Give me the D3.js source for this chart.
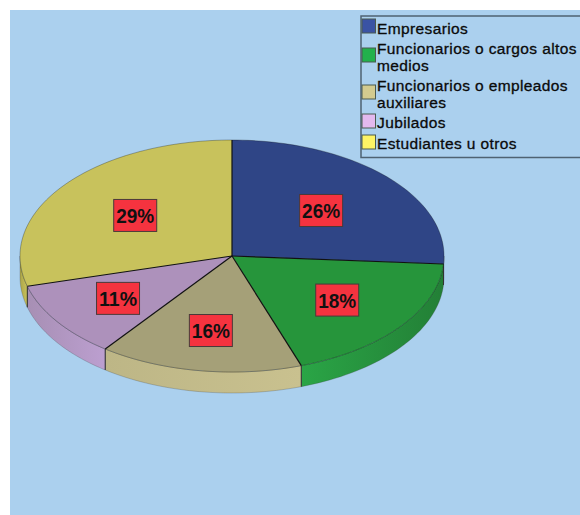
<!DOCTYPE html>
<html><head><meta charset="utf-8">
<script src="https://cdnjs.cloudflare.com/ajax/libs/d3/7.8.5/d3.min.js"></script>
<style>html,body{margin:0;padding:0;background:#fff}svg{display:block}text{font-family:"Liberation Sans",Arial,sans-serif}</style>
</head><body><svg id="c" width="580" height="515"></svg>
<script>
const legendLines = [["Empresarios"],["Funcionarios o cargos altos","medios"],["Funcionarios o empleados","auxiliares"],["Jubilados"],["Estudiantes u otros"]];
const shares = [26.1,18.6,15.5,10.6,29.2];
const percentLabels = ["26%","18%","16%","11%","29%"];
const topColors = ["#2f4586","#26953b","#a5a078","#ad91bb","#c8c25c"];
const wallDark = ["#27397a","#237f36","#bdb686","#a78fb4","#aca548"];
const wallLight = ["#2f4586","#2aa546","#c9c18f","#bc9fd0","#c8c25c"];
const swatchColors = ["#3a53a4","#22b14c","#d3cb8f","#e3b9ee","#fdf465"];

const svg = d3.select("#c");
const panel = {x:10,y:10,w:570,h:505};
const cx=232, cy=256, rx=212, ry=116, depth=21;
const sx = d3.scaleLinear().domain([-1,1]).range([cx-rx,cx+rx]);
const sy = d3.scaleLinear().domain([-1,1]).range([cy-ry,cy+ry]);

svg.append("rect").attr("x",panel.x).attr("y",panel.y).attr("width",panel.w).attr("height",panel.h).attr("fill","#abd0ee");

const arcs = d3.pie().sort(null).value(d=>d)(shares);
const defs = svg.append("defs");
const pt = a => [sx(Math.sin(a)), sy(-Math.cos(a))];

// side wall
const wallGroup = svg.append("g");
arcs.forEach((d,i)=>{
  const lo=Math.max(d.startAngle,Math.PI/2), hi=Math.min(d.endAngle,Math.PI*1.5);
  if(hi<=lo) return;
  const grad = defs.append("linearGradient").attr("id","w"+i).attr("gradientUnits","userSpaceOnUse")
    .attr("x1",pt(i<2?hi:lo)[0]).attr("x2",pt(i<2?lo:hi)[0]).attr("y1",0).attr("y2",0);
  grad.append("stop").attr("offset","0%").attr("stop-color",wallLight[i]);
  grad.append("stop").attr("offset","100%").attr("stop-color",wallDark[i]);
  const angs=d3.range(0,41).map(k=>lo+(hi-lo)*k/40);
  const upper=angs.map(pt), lower=angs.map(a=>{const p=pt(a);return [p[0],p[1]+depth]}).reverse();
  wallGroup.append("path").attr("d",d3.line()(upper.concat(lower))+"Z")
    .attr("fill",`url(#w${i})`).attr("stroke","#3a3a3a").attr("stroke-opacity",.35).attr("stroke-width",.7);
});
// wall seams
arcs.forEach(d=>{
  const a=d.startAngle;
  if(a>Math.PI/2&&a<Math.PI*1.5){const p=pt(a);
    wallGroup.append("line").attr("x1",p[0]).attr("y1",p[1]).attr("x2",p[0]).attr("y2",p[1]+depth).attr("stroke","#333").attr("stroke-width",1);}
});

// top slices
const faces = svg.append("g");
arcs.forEach((d,i)=>{
  const n=Math.max(8,Math.ceil((d.endAngle-d.startAngle)*40));
  const pts=d3.range(0,n+1).map(k=>pt(d.startAngle+(d.endAngle-d.startAngle)*k/n));
  faces.append("path").attr("d",d3.line()([[cx,cy]].concat(pts))+"Z").attr("fill",topColors[i]);
  faces.append("path").attr("d",d3.line()(pts)).attr("fill","none").attr("stroke","#000").attr("stroke-opacity",.35).attr("stroke-width",.8);
});
arcs.forEach(d=>{
  const p=pt(d.startAngle);
  faces.append("line").attr("x1",cx).attr("y1",cy).attr("x2",p[0]).attr("y2",p[1]).attr("stroke","#111").attr("stroke-width",1.2);
});

// labels
const labels = svg.append("g");
arcs.forEach((d,i)=>{
  const mid=(d.startAngle+d.endAngle)/2;
  const s=Math.sin(mid), c=Math.cos(mid);
  const f=c>0?0.575:(s>0?0.625:0.65);
  const x=sx(f*s), y=sy(-f*c);
  labels.append("rect").attr("x",x-21.5).attr("y",y-16).attr("width",43).attr("height",32)
    .attr("fill","#f5333f").attr("stroke","#4a3a3a").attr("stroke-width",1);
  labels.append("text").attr("x",x).attr("y",y+7.5).attr("text-anchor","middle")
    .attr("font-size",21).attr("font-weight","bold").attr("fill","#111").attr("textLength",38).attr("lengthAdjust","spacingAndGlyphs")
    .text(percentLabels[i]);
});

// legend
const lg = svg.append("g");
lg.append("rect").attr("x",361).attr("y",16).attr("width",222).attr("height",141.5)
  .attr("fill","#abd0ee").attr("stroke","#4f6272").attr("stroke-width",1.5);
const firstBase=[34,54,91,128,149], lineStep=16.5;
const swatchY=[19,48,85,114,135];
legendLines.forEach((lines,i)=>{
  lg.append("rect").attr("x",362).attr("y",swatchY[i]).attr("width",13.5).attr("height",14)
    .attr("fill",swatchColors[i]).attr("stroke","#4a5a50").attr("stroke-width",1);
  lines.forEach((t,j)=>{
    lg.append("text").attr("x",377).attr("y",firstBase[i]+j*lineStep)
      .attr("font-size",15.5).attr("letter-spacing",.38).attr("fill","#0a0a0a").attr("stroke","#0a0a0a").attr("stroke-width",.3).text(t);
  });
});
</script></body></html>
